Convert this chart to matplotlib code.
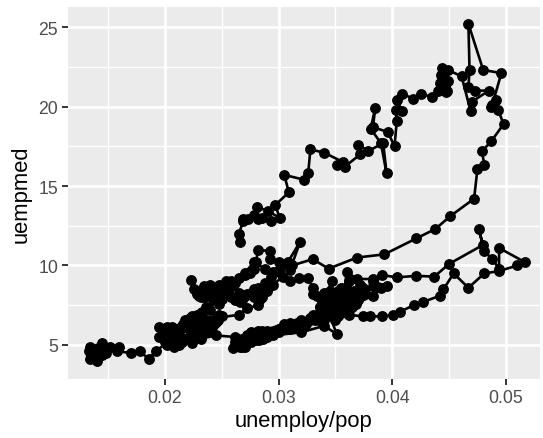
import matplotlib
matplotlib.use("Agg")
import matplotlib.pyplot as plt
from matplotlib.ticker import MultipleLocator

# unemploy/pop and median unemployment duration in time order
ratio = [
    # 1967-1969
    .0148, .0144, .0146, .0145, .0141, .0138, .0136, .0134, .0133, .0135, .0137, .0134, .0137, .0140, .0145,
    # 1970
    .0152, .0160, .0158, .0170, .0178, .0186, .0192, .0204, .0215, .0228, .0237,
    # 1971-1973
    .0240, .0247, .0244, .0250, .0246, .0243, .0248, .0241,
    .0240, .0236, .0238, .0232, .0228, .0230, .0222, .0218,
    .0212, .0206, .0200, .0195, .0195, .0202, .0208, .0204,
    # 1974-1975
    .0212, .0215, .0224, .0232, .0245, .0262, .0285, .0305,
    .0338, .0352, .0368, .0383, .0390, .0395, .0383, .0383, .0369, .0360, .0358, .0352,
    # 1976-1979
    .0345, .0347, .0340, .0344, .0350, .0352, .0348, .0355, .0358, .0350,
    .0342, .0338, .0334, .0330, .0326, .0320, .0316, .0314, .0308,
    .0300, .0295, .0290, .0286, .0282, .0280, .0275, .0272,
    .0268, .0270, .0265, .0268, .0272, .0276, .0274, .0280,
    # 1980-1981
    .0283, .0295, .0320, .0340, .0351, .0345, .0351, .0347, .0342,
    .0345, .0350, .0346, .0355, .0362, .0374, .0380, .0391, .0401,
    # 1982-1983
    .0407, .0419, .0427, .0442, .0445, .0454, .0467, .0481, .0494, .0510, .0517,
    .0494, .0494, .0488, .0481, .0476, .0480, .0450, .0437, .0421, .0404, .0391,
    # 1984-1986
    .0383, .0376, .0372, .0370, .0365, .0368, .0362, .0357, .0360, .0355, .0351, .0356,
    .0352, .0348, .0350, .0354, .0345, .0340, .0343, .0338,
    .0342, .0340, .0344, .0346, .0338, .0334, .0336, .0332,
    # 1987-1990
    .0328, .0324, .0320, .0315, .0310, .0305, .0300, .0295,
    .0290, .0286, .0282, .0280, .0276, .0274, .0272, .0270,
    .0265, .0260, .0266, .0262, .0270, .0268,
    .0272, .0270, .0275, .0280, .0290, .0300, .0310,
    # 1991-1993
    .0318, .0328, .0338, .0336, .0340, .0345, .0348, .0342,
    .0356, .0358, .0366, .0374, .0372, .0365, .0362, .0355, .0360,
    .0352, .0346, .0347, .0340, .0344, .0334, .0338, .0330,
    # 1994-1997
    .0330, .0326, .0318, .0310, .0304, .0295, .0290,
    .0285, .0282, .0290, .0286, .0282, .0280, .0284, .0278,
    .0278, .0276, .0272, .0268, .0270, .0266, .0262, .0265,
    .0258, .0255, .0250, .0252, .0246, .0248, .0242, .0240,
    # 1998-2001
    .0236, .0232, .0230, .0236, .0226, .0233, .0228, .0224,
    .0222, .0220, .0224, .0216, .0214, .0218, .0210, .0208,
    .0205, .0202, .0204, .0200, .0206, .0201, .0209, .0203,
    .0212, .0218, .0225, .0232, .0245, .0265, .0272,
    # 2002-2004
    .0282, .0285, .0290, .0288, .0293, .0295,
    .0300, .0308, .0319, .0310, .0300, .0292,
    .0292, .0282, .0280, .0278, .0275, .0270,
    # 2005-2007
    .0265, .0260, .0258, .0254, .0256, .0250, .0248, .0245,
    .0240, .0243, .0236, .0232, .0234, .0230, .0223, .0228,
    .0230, .0226, .0232, .0236, .0234, .0240, .0246, .0250,
    # 2008
    .0253, .0255, .0262, .0270, .0278, .0288, .0300, .0312, .0330, .0344, .0369,
    # 2009
    .0393, .0421, .0438, .0451, .0472, .0475, .0481, .0479, .0487, .0498, .0493, .0487,
    # 2010
    .0491, .0488, .0496, .0480, .0467, .0468, .0467, .0473, .0485, .0470, .0469, .0461,
    # 2011
    .0449, .0445, .0442, .0448, .0444, .0447, .0449, .0443, .0446, .0440, .0435, .0425,
    # 2012
    .0418, .0409, .0404, .0409, .0403, .0404, .0402, .0396, .0383, .0385, .0381, .0390,
    # 2013
    .0395, .0392, .0379, .0370, .0372, .0358, .0351, .0357, .0340, .0328, .0326, .0322,
    # 2014-2015
    .0305, .0309, .0297, .0301, .0291, .0281, .0278, .0285, .0293, .0282, .0273, .0269,
    .0269, .0265, .0266,
]

uempmed = [
    # 1967-1969
    4.5, 4.7, 4.6, 5.1, 4.8, 4.5, 4.4, 4.1, 4.6, 4.4, 4.2, 4.9, 4.4, 4.0, 4.4,
    # 1970
    4.85, 4.85, 4.6, 4.5, 4.6, 4.1, 4.65, 5.2, 5.4, 5.7, 5.9,
    # 1971-1973
    6.2, 6.6, 6.4, 6.8, 6.5, 6.3, 6.9, 6.1,
    6.5, 6.2, 5.9, 6.0, 5.9, 5.6, 5.6, 5.4,
    5.1, 5.0, 5.2, 5.5, 6.1, 5.0, 4.9, 5.3,
    # 1974-1975
    5.0, 5.2, 5.1, 5.4, 5.6, 5.5, 5.9, 6.3,
    6.4, 7.0, 7.6, 8.1, 8.6, 8.7, 9.0, 9.15, 9.15, 9.6, 8.5, 8.2,
    # 1976-1979
    8.4, 9.0, 8.0, 7.6, 7.8, 7.2, 7.4, 7.8, 7.5, 7.3,
    7.0, 7.2, 6.8, 6.9, 6.5, 6.6, 6.4, 6.3, 6.0,
    6.0, 5.7, 5.9, 5.5, 5.8, 5.6, 5.5, 5.2,
    5.3, 5.0, 5.2, 4.9, 5.4, 5.2, 5.5, 5.3,
    # 1980-1981
    5.3, 5.6, 5.8, 6.2, 5.7, 6.9, 7.3, 7.7, 7.6,
    7.4, 7.2, 7.0, 7.3, 6.9, 6.8, 6.8, 6.8, 6.9,
    # 1982-1983
    7.1, 7.5, 7.7, 8.1, 8.5, 9.5, 8.6, 9.5, 9.65, 10.0, 10.2,
    11.1, 9.8, 10.4, 10.9, 12.3, 11.3, 10.1, 9.3, 9.35, 9.25, 9.4,
    # 1984-1986
    8.7, 8.3, 8.1, 7.8, 7.4, 7.9, 7.2, 7.5, 7.7, 7.0, 6.9, 7.3,
    6.8, 6.9, 6.6, 7.2, 6.9, 6.6, 7.3, 6.8,
    7.0, 6.9, 7.1, 7.5, 6.8, 6.9, 7.4, 6.6,
    # 1987-1990
    6.6, 6.3, 6.5, 6.2, 6.4, 6.2, 6.0, 5.8,
    5.6, 5.4, 5.9, 5.4, 5.8, 5.5, 5.6, 5.3,
    5.0, 4.8, 4.9, 5.2, 4.9, 5.0,
    5.2, 5.4, 5.3, 5.6, 5.5, 5.8, 6.0,
    # 1991-1993
    6.3, 6.7, 7.0, 7.4, 7.7, 8.0, 7.6, 8.2,
    8.3, 8.6, 8.4, 8.6, 8.8, 8.2, 9.0, 8.6, 8.0,
    8.4, 8.2, 8.0, 8.3, 7.8, 8.1, 7.7, 8.2,
    # 1994-1997
    8.6, 9.2, 9.2, 9.0, 9.3, 8.8, 8.6,
    8.0, 8.2, 8.4, 8.3, 8.6, 8.3, 7.9, 8.0,
    8.5, 8.3, 8.2, 7.8, 8.1, 7.7, 7.8, 8.3,
    8.0, 8.2, 7.9, 8.4, 8.0, 7.6, 7.8, 7.2,
    # 1998-2001
    7.4, 7.0, 6.8, 6.6, 6.5, 7.1, 6.9, 6.8,
    6.7, 6.4, 6.2, 6.3, 6.1, 6.6, 6.0, 5.8,
    5.8, 6.1, 6.0, 5.9, 6.1, 5.9, 5.6, 5.5,
    5.8, 6.1, 6.1, 6.3, 6.7, 6.9, 7.3,
    # 2002-2004
    7.5, 8.2, 8.5, 8.9, 9.3, 9.6,
    9.6, 10.2, 11.5, 9.7, 10.2, 10.4,
    10.9, 11.0, 10.2, 9.8, 9.5, 9.4,
    # 2005-2007
    9.2, 8.8, 9.0, 9.0, 8.5, 8.6, 8.8, 8.4,
    8.5, 8.1, 8.6, 8.4, 8.0, 8.1, 9.1, 8.2,
    8.3, 8.5, 8.0, 8.3, 8.7, 8.8, 8.6, 8.4,
    # 2008
    8.8, 8.7, 8.9, 9.5, 10.2, 9.8, 9.7, 10.0, 10.4, 9.8, 10.5,
    # 2009
    10.7, 11.7, 12.3, 13.1, 14.2, 16.1, 16.3, 17.2, 17.8, 18.9, 19.8, 20.0,
    # 2010
    20.4, 20.1, 22.1, 22.3, 25.2, 22.3, 21.2, 21.0, 21.0, 20.3, 19.7, 21.9,
    # 2011
    22.3, 22.0, 21.5, 21.0, 22.4, 20.9, 21.6, 22.0, 21.3, 21.0, 20.6, 20.8,
    # 2012
    20.5, 20.8, 20.4, 19.7, 19.8, 19.1, 17.5, 18.4, 18.7, 19.9, 18.6, 17.7,
    # 2013
    15.8, 17.7, 17.2, 17.6, 17.0, 16.2, 16.3, 16.5, 17.1, 17.3, 15.8, 15.4,
    # 2014-2015
    15.7, 14.6, 13.8, 13.0, 13.4, 13.7, 13.2, 13.0, 12.8, 12.9, 12.9, 12.9,
    12.8, 12.0, 11.5,
]

plt.rcParams["font.family"] = ["Liberation Sans", "DejaVu Sans"]

fig = plt.figure(figsize=(5.43, 4.39), dpi=100)
ax = fig.add_axes([68 / 543, 1 - 380 / 439, (540 - 68) / 543, (380 - 8) / 439])

ax.set_facecolor("#EBEBEB")
ax.plot(ratio, uempmed, color="black", lw=1.9, marker="o", ms=6.8, zorder=3)

ax.set_xlim(0.01147, 0.0530)
ax.set_ylim(2.86, 26.26)
ax.xaxis.set_minor_locator(MultipleLocator(0.005))
ax.yaxis.set_minor_locator(MultipleLocator(2.5))
ax.set_xticks([0.02, 0.03, 0.04, 0.05])
ax.set_xticklabels(["0.02", "0.03", "0.04", "0.05"])
ax.set_yticks([5, 10, 15, 20, 25])
ax.set_yticklabels(["5", "10", "15", "20", "25"])

ax.grid(which="major", color="white", lw=2.0)
ax.grid(which="minor", color="white", lw=1.0)
ax.set_axisbelow(True)
for s in ax.spines.values():
    s.set_visible(False)

ax.tick_params(which="major", length=4, width=1.4, color="#333333",
               labelcolor="#4D4D4D", labelsize=12.7, pad=3.2)
ax.tick_params(which="minor", length=0)

ax.set_xlabel("unemploy/pop", fontsize=15.8, color="black", labelpad=3)
ax.set_ylabel("uempmed", fontsize=15.8, color="black", labelpad=5)

fig.savefig("out.png", dpi=100)
